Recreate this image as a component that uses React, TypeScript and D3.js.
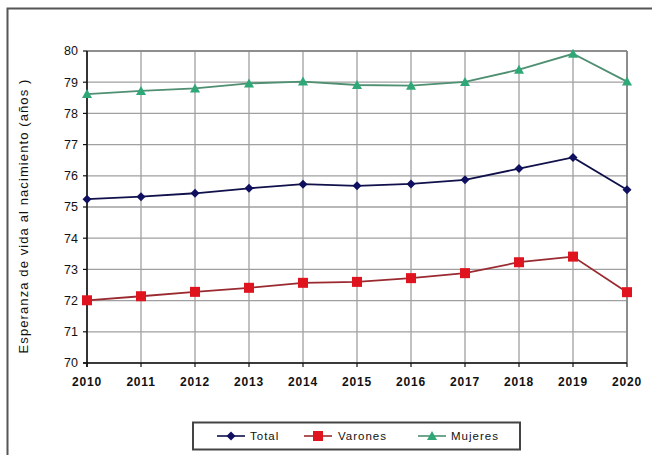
import React from "react";
import * as d3 from "d3";

const years = [2010, 2011, 2012, 2013, 2014, 2015, 2016, 2017, 2018, 2019, 2020];
const total = [75.25, 75.33, 75.44, 75.6, 75.73, 75.68, 75.74, 75.87, 76.23, 76.59, 75.55];
const varones = [72.01, 72.14, 72.28, 72.41, 72.57, 72.6, 72.72, 72.88, 73.23, 73.41, 72.27];
const mujeres = [78.62, 78.72, 78.8, 78.96, 79.02, 78.91, 78.89, 79.01, 79.4, 79.91, 79.02];
const yTicks = [70, 71, 72, 73, 74, 75, 76, 77, 78, 79, 80];
const seriesNames = ["Total", "Varones", "Mujeres"];

const W = 652, H = 455;
const L = 87, R = 627, T = 51, B = 363;
const font = "'Liberation Sans', Arial, sans-serif";

export default function App() {
  const x = d3.scaleLinear().domain([2010, 2020]).range([L, R]);
  const y = d3.scaleLinear().domain([70, 80]).range([B, T]);
  const line = d3.line<number>().x((_, i) => x(years[i])).y((d) => y(d));

  const series = [
    { name: seriesNames[0], data: total, line: "#10104a", marker: "#101060", shape: "diamond" },
    { name: seriesNames[1], data: varones, line: "#9a2a30", marker: "#e0141e", shape: "square" },
    { name: seriesNames[2], data: mujeres, line: "#4f8f72", marker: "#2fa878", shape: "triangle" },
  ];

  const marker = (shape: string, cx: number, cy: number, color: string, key?: any) => {
    if (shape === "diamond") {
      const s = 4.5;
      return <path key={key} d={`M${cx},${cy - s}L${cx + s},${cy}L${cx},${cy + s}L${cx - s},${cy}Z`} fill={color} />;
    }
    if (shape === "square") {
      const s = 5;
      return <rect key={key} x={cx - s} y={cy - s} width={2 * s} height={2 * s} fill={color} />;
    }
    const s = 5;
    return <path key={key} d={`M${cx},${cy - s}L${cx + s},${cy + s * 0.8}L${cx - s},${cy + s * 0.8}Z`} fill={color} />;
  };

  const legendItems = [
    { x0: 217, tx: 250 },
    { x0: 304, tx: 338 },
    { x0: 418, tx: 451 },
  ];

  return (
    <svg width={W} height={H} style={{ position: "absolute", left: 0, top: 0 }}>
      <rect x={0} y={0} width={W} height={H} fill="#fff" />
      <rect x={7.5} y={8.5} width={W + 10} height={H + 10} fill="none" stroke="#555" strokeWidth={2} />
      {/* grid */}
      {yTicks.map((t) => (
        <line key={"gy" + t} x1={L} x2={R} y1={y(t)} y2={y(t)} stroke="#a0a0a0" strokeWidth={1.3} />
      ))}
      {years.map((yr) => (
        <line key={"gx" + yr} x1={x(yr)} x2={x(yr)} y1={T} y2={B} stroke="#a0a0a0" strokeWidth={1.3} />
      ))}
      <line x1={R} x2={R} y1={T} y2={B} stroke="#808080" strokeWidth={1.6} />
      <line x1={L} x2={R} y1={T} y2={T} stroke="#808080" strokeWidth={1.6} />
      {/* axes */}
      <line x1={L} x2={L} y1={T} y2={B + 4} stroke="#111" strokeWidth={1.6} />
      <line x1={L - 4} x2={R} y1={B} y2={B} stroke="#111" strokeWidth={1.6} />
      {yTicks.map((t) => (
        <g key={"ty" + t}>
          <line x1={L - 4} x2={L} y1={y(t)} y2={y(t)} stroke="#111" strokeWidth={1.2} />
          <text x={L - 9} y={y(t)} dy="0.35em" textAnchor="end" fontFamily={font} fontSize={12.5} fill="#111">
            {t}
          </text>
        </g>
      ))}
      {years.map((yr) => (
        <g key={"tx" + yr}>
          <line x1={x(yr)} x2={x(yr)} y1={B} y2={B + 4} stroke="#111" strokeWidth={1.2} />
          <text x={x(yr)} y={B + 23} textAnchor="middle" fontFamily={font} fontSize={12} fontWeight="bold" letterSpacing={0.8} fill="#111">
            {yr}
          </text>
        </g>
      ))}
      <text
        transform={`translate(28,${(T + B) / 2 + 9}) rotate(-90)`}
        textAnchor="middle"
        fontFamily={font}
        fontSize={13}
        letterSpacing={1.1}
        fill="#111"
      >
        Esperanza de vida al nacimiento  (años )
      </text>
      {/* series */}
      {series.map((s) => (
        <g key={s.name}>
          <path d={line(s.data) || ""} fill="none" stroke={s.line} strokeWidth={1.8} />
          {s.data.map((v, i) => marker(s.shape, x(years[i]), y(v), s.marker, i))}
        </g>
      ))}
      {/* legend */}
      <rect x={193} y={422.5} width={327} height={27} fill="#fff" stroke="#444" strokeWidth={2} />
      {series.map((s, i) => (
        <g key={"lg" + s.name}>
          <line x1={legendItems[i].x0} x2={legendItems[i].x0 + 28} y1={436} y2={436} stroke={s.line} strokeWidth={1.6} />
          {marker(s.shape, legendItems[i].x0 + 14, 436, s.marker)}
          <text x={legendItems[i].tx} y={436} dy="0.35em" fontFamily={font} fontSize={11.5} letterSpacing={1} fill="#111">
            {s.name}
          </text>
        </g>
      ))}
    </svg>
  );
}
